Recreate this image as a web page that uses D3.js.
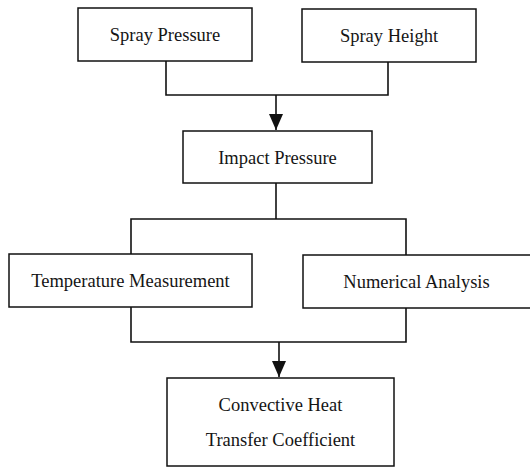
<!DOCTYPE html>
<html>
<head>
<meta charset="utf-8">
<script src="https://cdn.jsdelivr.net/npm/d3@7"></script>
<style>
  body { margin: 0; background: #fff; }
  svg { display: block; }
  text { font-family: "Liberation Serif", "Times New Roman", serif; fill: #151515; }
</style>
</head>
<body>
<script>
// diagram content
const nodeIds = ['sprayPressure', 'sprayHeight', 'impact', 'tempMeas', 'numerical', 'convective'];
const nodeLabels = [
  ['Spray Pressure'],
  ['Spray Height'],
  ['Impact Pressure'],
  ['Temperature Measurement'],
  ['Numerical Analysis'],
  ['Convective Heat', 'Transfer Coefficient']
];
// [from group, to] : boxes that merge / split into another box
const merges = [[['sprayPressure', 'sprayHeight'], 'impact'], [['tempMeas', 'numerical'], 'convective']];
const splits = [['impact', ['tempMeas', 'numerical']]];

let width = 530;
let height = 467;

// box geometry (pixels)
const layout = {
  sprayPressure: { x: 78, y: 8, w: 174, h: 53, cx: 166 },
  sprayHeight:   { x: 302, y: 9, w: 174, h: 53, cx: 388 },
  impact:        { x: 183, y: 131, w: 189, h: 52, cx: 276 },
  tempMeas:      { x: 9, y: 254, w: 243, h: 53, cx: 131 },
  numerical:     { x: 303, y: 255, w: 235, h: 53, cx: 406 },
  convective:    { x: 167, y: 378, w: 227, h: 88, cx: 279 }
};
const busGap = 34;   // distance of the joining line from the boxes

let svg = d3.select('body').append('svg')
  .attr('width', width)
  .attr('height', height);

// arrow head, drawn pointing along the path direction
svg.append('defs').append('marker')
  .attr('id', 'arrow')
  .attr('viewBox', '0 0 16 14')
  .attr('refX', 16).attr('refY', 7)
  .attr('markerWidth', 16).attr('markerHeight', 14)
  .attr('markerUnits', 'userSpaceOnUse')
  .attr('orient', 'auto')
  .append('path')
  .attr('d', 'M0,0 L16,7 L0,14 Z')
  .attr('fill', '#111');

let line = d3.line();
let links = svg.append('g')
  .attr('fill', 'none')
  .attr('stroke', '#111')
  .attr('stroke-width', 1.6);

// merging connectors: sources down to a bus, then arrow into the target
merges.forEach(([sources, target]) => {
  let t = layout[target];
  let busY = t.y - busGap - 2;
  let s = sources.map(id => layout[id]);
  links.append('path')
    .attr('d', line([[s[0].cx, s[0].y + s[0].h], [s[0].cx, busY], [s[1].cx, busY], [s[1].cx, s[1].y + s[1].h]]));
  links.append('path')
    .attr('d', line([[t.cx, busY], [t.cx, t.y - 1]]))
    .attr('marker-end', 'url(#arrow)');
});

// splitting connectors: source down to a bus, then down into every target
splits.forEach(([source, targets]) => {
  let s = layout[source];
  let busY = s.y + s.h + 36;
  let t = targets.map(id => layout[id]);
  links.append('path')
    .attr('d', line([[s.cx, s.y + s.h], [s.cx, busY]]));
  links.append('path')
    .attr('d', line([[t[0].cx, t[0].y], [t[0].cx, busY], [t[1].cx, busY], [t[1].cx, t[1].y]]));
});

// boxes
let nodes = svg.selectAll('g.node')
  .data(nodeIds)
  .enter()
  .append('g')
  .attr('class', 'node');

nodes.append('rect')
  .attr('x', id => layout[id].x)
  .attr('y', id => layout[id].y)
  .attr('width', id => layout[id].w)
  .attr('height', id => layout[id].h)
  .attr('fill', '#fff')
  .attr('stroke', '#111')
  .attr('stroke-width', 1.5);

nodes.each(function(id, i) {
  let b = layout[id];
  let lines = nodeLabels[i];
  let lineH = 35;
  let midX = b.x + (id === 'numerical' ? 227 : b.w) / 2;
  lines.forEach((txt, k) => {
    d3.select(this).append('text')
      .attr('x', midX)
      .attr('y', b.y + b.h / 2 + (k - (lines.length - 1) / 2) * lineH + 6.5)
      .attr('text-anchor', 'middle')
      .style('font-size', '18.5px')
      .text(txt);
  });
});
</script>
</body>
</html>
